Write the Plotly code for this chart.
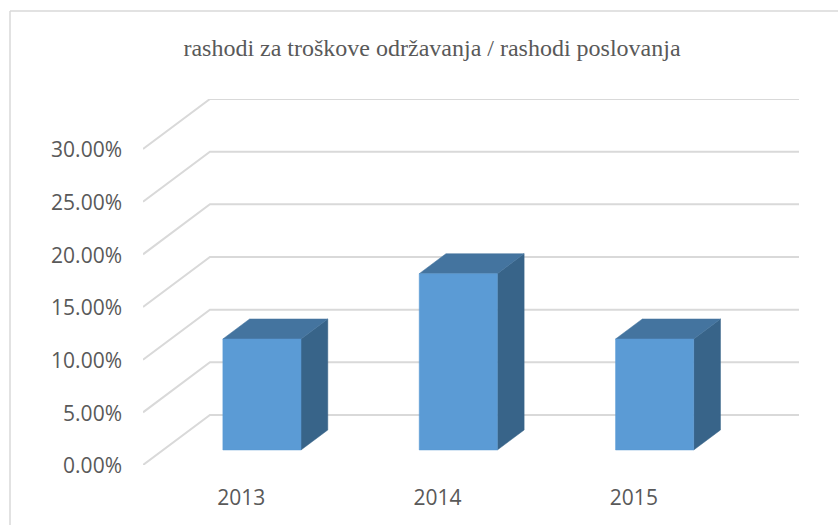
import plotly.graph_objects as go

categories = ["2013", "2014", "2015"]
values = [10.54, 16.74, 10.54]
y_ticks = [0, 5, 10, 15, 20, 25, 30]
y_tick_labels = ["0.00%", "5.00%", "10.00%", "15.00%", "20.00%", "25.00%", "30.00%"]
title = "rashodi za troškove održavanja / rashodi poslovanja"

# Oblique projection of the 3D floor depth, in axis units
DEPTH_X = 0.341
DEPTH_Y = 4.75
BAR_WIDTH = 0.398
BAR_START = 0.31   # share of the depth where the bar begins
BAR_DEPTH = 0.40   # share of the depth the bar takes

GRID = "#D9D9D9"
TEXT = "#595959"
FRONT = "#5B9BD5"
TOP = "#44749F"
SIDE = "#386489"

n = len(categories)
x_lo, x_hi = -0.5, n - 0.5

fig = go.Figure()


def poly(xs, ys, color):
    fig.add_trace(go.Scatter(x=xs, y=ys, mode="lines", fill="toself", fillcolor=color,
                             line=dict(color=color, width=0.5), hoverinfo="skip"))


# Wall and floor gridlines
for t in y_ticks:
    fig.add_trace(go.Scatter(
        x=[x_lo, x_lo + DEPTH_X, x_hi + DEPTH_X],
        y=[t, t + DEPTH_Y, t + DEPTH_Y],
        mode="lines", line=dict(color=GRID, width=2), hoverinfo="skip"))

# Bars
for i, v in enumerate(values):
    x0 = i - BAR_WIDTH / 2 + BAR_START * DEPTH_X
    x1 = x0 + BAR_WIDTH
    y0 = 0.30 * DEPTH_Y
    y1 = y0 + v
    dx = BAR_DEPTH * DEPTH_X
    dy = BAR_DEPTH * DEPTH_Y
    poly([x1, x1 + dx, x1 + dx, x1, x1], [y0, y0 + dy, y1 + dy, y1, y0], SIDE)
    poly([x0, x0 + dx, x1 + dx, x1, x0], [y1, y1 + dy, y1 + dy, y1, y1], TOP)
    poly([x0, x1, x1, x0, x0], [y0, y0, y1, y1, y0], FRONT)

L, R, T, B = 143, 39, 99, 60
W, H = 838, 525
pw, ph = W - L - R, H - T - B

fig.update_layout(
    width=W, height=H,
    autosize=False,
    margin=dict(l=L, r=R, t=T, b=B, pad=0),
    paper_bgcolor="white", plot_bgcolor="rgba(0,0,0,0)",
    showlegend=False,
    title=dict(text=title, x=432 / W, xanchor="center", xref="container",
               y=1 - 47.5 / H, yanchor="middle", yref="container",
               font=dict(family="Liberation Serif", size=24, color=TEXT)),
    xaxis=dict(range=[x_lo, x_hi + DEPTH_X], tickmode="array",
               tickvals=list(range(n)), ticktext=categories,
               showgrid=False, zeroline=False, showline=False, ticks="",
               ticklabelstandoff=18,
               tickfont=dict(family="Open Sans", size=21, color=TEXT)),
    yaxis=dict(range=[0, 30 + DEPTH_Y], tickmode="array",
               tickvals=y_ticks, ticktext=y_tick_labels,
               showgrid=False, zeroline=False, showline=False, ticks="",
               ticklabelstandoff=20, ticklabelshift=1,
               tickfont=dict(family="Open Sans", size=21, color=TEXT)),
    shapes=[
        # Chart-area border: left and top edges
        dict(type="line", xref="paper", yref="paper", layer="below",
             x0=(10 - L) / pw, x1=(10 - L) / pw, y0=(H - B - H) / ph, y1=(H - B - 11) / ph,
             line=dict(color=GRID, width=1.5)),
        dict(type="line", xref="paper", yref="paper", layer="below",
             x0=(10 - L) / pw, x1=(W - L) / pw, y0=(H - B - 11) / ph, y1=(H - B - 11) / ph,
             line=dict(color=GRID, width=1.5)),
    ],
)

fig.write_html("out.html", config=dict(displayModeBar=False),
               post_script="document.body.style.margin='0';document.body.style.overflow='hidden';")
